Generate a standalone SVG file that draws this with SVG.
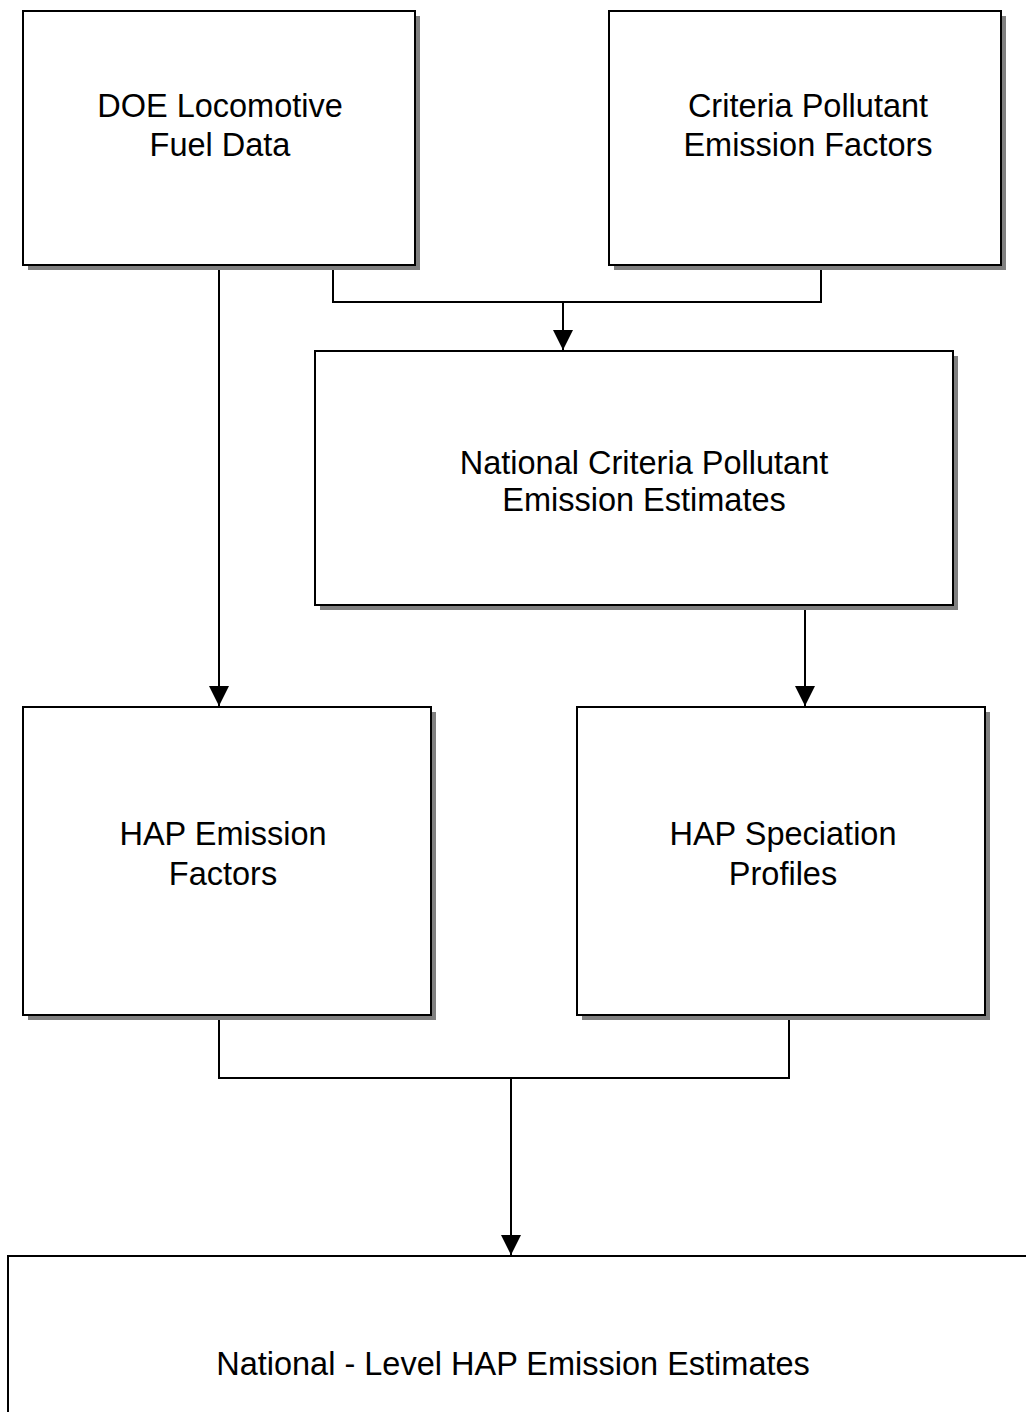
<svg xmlns="http://www.w3.org/2000/svg" width="1026" height="1412" viewBox="0 0 1026 1412">
  <style>
    .box { fill: #ffffff; stroke: #000000; stroke-width: 2; }
    .shadow { fill: #808080; stroke: none; }
    .label { font-family: "Liberation Sans", Arial, sans-serif; font-size: 32.5px; fill: #000000; text-anchor: middle; }
    .wire { fill: none; stroke: #000000; stroke-width: 2; }
  </style>
  <defs>
    <marker id="arrow" viewBox="0 0 20 20" refX="20" refY="10" markerWidth="20" markerHeight="20" markerUnits="userSpaceOnUse" orient="auto">
      <path d="M0,0 L20,10 L0,20 Z" fill="#000000"/>
    </marker>
  </defs>
  <rect width="1026" height="1412" fill="#ffffff"/>

  <!-- connectors -->
  <g id="connectors">
    <path class="wire" d="M219,265 V706" marker-end="url(#arrow)"/>
    <path class="wire" d="M333,265 V302 H821 V265"/>
    <path class="wire" d="M563,302 V350" marker-end="url(#arrow)"/>
    <path class="wire" d="M805,605 V706" marker-end="url(#arrow)"/>
    <path class="wire" d="M219,1015 V1078 H789 V1015"/>
    <path class="wire" d="M511,1078 V1255" marker-end="url(#arrow)"/>
  </g>

  <!-- source data -->
  <g id="doe-fuel">
    <rect class="shadow" x="28" y="16" width="392" height="254"/>
    <rect class="box" x="23" y="11" width="392" height="254"/>
    <text class="label" x="220" y="117">DOE Locomotive</text>
    <text class="label" x="220" y="156">Fuel Data</text>
  </g>

  <g id="criteria-factors">
    <rect class="shadow" x="614" y="16" width="392" height="254"/>
    <rect class="box" x="609" y="11" width="392" height="254"/>
    <text class="label" x="808" y="117">Criteria Pollutant</text>
    <text class="label" x="808" y="156">Emission Factors</text>
  </g>

  <g id="criteria-estimates">
    <rect class="shadow" x="320" y="356" width="638" height="254"/>
    <rect class="box" x="315" y="351" width="638" height="254"/>
    <text class="label" x="644" y="474">National Criteria Pollutant</text>
    <text class="label" x="644" y="511">Emission Estimates</text>
  </g>

  <g id="hap-factors">
    <rect class="shadow" x="28" y="712" width="408" height="308"/>
    <rect class="box" x="23" y="707" width="408" height="308"/>
    <text class="label" x="223" y="845">HAP Emission</text>
    <text class="label" x="223" y="885">Factors</text>
  </g>

  <g id="hap-speciation">
    <rect class="shadow" x="582" y="712" width="408" height="308"/>
    <rect class="box" x="577" y="707" width="408" height="308"/>
    <text class="label" x="783" y="845">HAP Speciation</text>
    <text class="label" x="783" y="885">Profiles</text>
  </g>

  <g id="hap-estimates">
    <rect class="box" x="8" y="1256" width="1040" height="180"/>
    <text class="label" x="513" y="1375">National - Level HAP Emission Estimates</text>
  </g>
</svg>
